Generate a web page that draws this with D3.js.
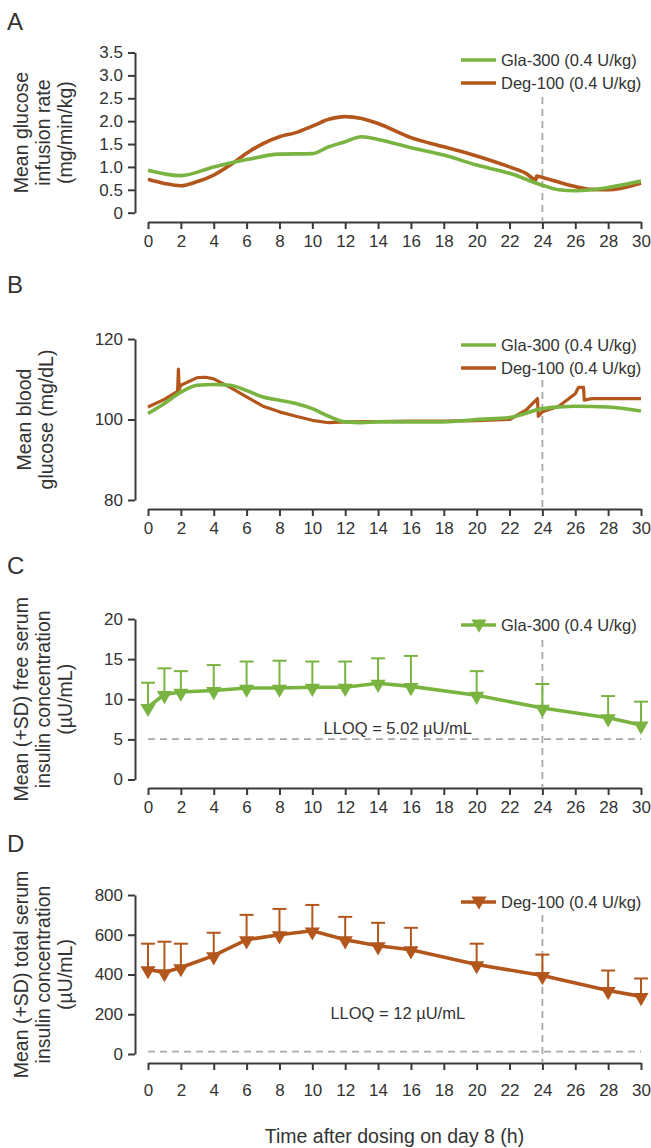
<!DOCTYPE html>
<html>
<head>
<meta charset="utf-8">
<script src="https://cdn.jsdelivr.net/npm/d3@7"></script>
<style>
body { margin: 0; background: #fff; }
</style>
</head>
<body>
<svg id="chart" width="651" height="1148"></svg>
<script>
// ---- data ----
var xTicks = [0, 2, 4, 6, 8, 10, 12, 14, 16, 18, 20, 22, 24, 26, 28, 30];

// A: glucose infusion rate (mg/min/kg)
var girGlaTime = [0, 2, 4, 6, 8, 10, 11, 12, 13, 14, 16, 18, 20, 22, 24, 25, 26, 27, 28, 30];
var girGlaVal  = [0.93, 0.81, 1.0, 1.16, 1.28, 1.29, 1.44, 1.55, 1.66, 1.6, 1.42, 1.26, 1.04, 0.86, 0.6, 0.5, 0.48, 0.5, 0.55, 0.69];
var girDegTime = [0, 1, 2, 3, 4, 5, 6, 7, 8, 9, 10, 11, 12, 13, 14, 16, 18, 20, 22, 23, 23.6, 23.65, 24, 26, 27, 28, 30];
var girDegVal  = [0.73, 0.64, 0.59, 0.68, 0.82, 1.04, 1.3, 1.51, 1.66, 1.75, 1.89, 2.04, 2.1, 2.06, 1.95, 1.64, 1.44, 1.24, 1.0, 0.86, 0.72, 0.8, 0.77, 0.57, 0.51, 0.5, 0.65];
var girTicks = [0, 0.5, 1.0, 1.5, 2.0, 2.5, 3.0, 3.5];

// B: blood glucose (mg/dL)
var bgGlaTime = [0, 1, 2, 3, 4, 5, 6, 7, 8, 9, 10, 11, 12, 13, 14, 16, 18, 20, 22, 24, 25, 26, 28, 30];
var bgGlaVal  = [101.5, 104, 106.8, 108.5, 108.7, 108.5, 107.2, 105.6, 104.8, 104, 102.7, 100.8, 99.4, 99.2, 99.4, 99.4, 99.4, 100, 100.5, 102.7, 103.1, 103.3, 103.1, 102.1];
var bgDegTime = [0, 1, 1.8, 1.85, 1.9, 2, 3, 3.5, 4, 5, 6, 7, 8, 9, 10, 11, 12, 14, 16, 18, 20, 22, 23, 23.7, 23.75, 24, 25, 26, 26.2, 26.5, 26.55, 27, 30];
var bgDegVal  = [103.1, 105, 107, 112.5, 107.5, 108.5, 110.4, 110.5, 110.1, 108, 105.6, 103.3, 101.9, 100.8, 99.8, 99.2, 99.4, 99.5, 99.6, 99.6, 99.7, 100, 102.3, 105.2, 100.8, 101.9, 103.3, 106.4, 108, 108, 104.8, 105.2, 105.2];
var bgTicks = [80, 100, 120];

// C: free serum insulin, Gla-300 (µU/mL)
var freeTime = [0, 1, 2, 4, 6, 8, 10, 12, 14, 16, 20, 24, 28, 30];
var freeMean = [9.0, 10.6, 10.9, 11.1, 11.4, 11.4, 11.5, 11.5, 12.0, 11.6, 10.5, 8.9, 7.7, 6.8];
var freeUpper = [12.06, 13.85, 13.5, 14.26, 14.7, 14.8, 14.7, 14.7, 15.1, 15.4, 13.5, 11.9, 10.4, 9.7];
var freeTicks = [0, 5, 10, 15, 20];
var freeLloq = 5.02;

// D: total serum insulin, Deg-100 (µU/mL)
var totalTime = [0, 1, 2, 4, 6, 8, 10, 12, 14, 16, 20, 24, 28, 30];
var totalMean = [425, 410, 435, 495, 575, 600, 620, 575, 545, 525, 450, 395, 320, 290];
var totalUpper = [555, 565, 555, 610, 700, 730, 750, 690, 660, 635, 555, 500, 420, 380];
var totalTicks = [0, 200, 400, 600, 800];
var totalLloq = 12;

var glaColor = "#79b441";
var degColor = "#b2561c";
var axisColor = "#3a3a3a";
var textColor = "#333";
var dashColor = "#a8a8a8";
var font = "'Liberation Sans', Arial, sans-serif";
var tickFont = 17;
var titleFont = 19.5;

var svg = d3.select("#chart")
    .style("font-family", font);

var x = d3.scaleLinear().domain([0, 30]).range([148, 641]);

function pairs(ts, vs){
    return ts.map(function(t, i){ return [t, vs[i]]; });
}

// 1パネル分の枠（軸・タイトル・縦点線）
function drawFrame(p){
    var g = svg.append("g");
    // panel letter
    g.append("text")
        .attr("x", 7).attr("y", p.letterY)
        .attr("font-size", 24).attr("fill", textColor)
        .text(p.letter);
    // y axis
    var ya = g.append("g")
        .attr("transform", "translate(135,0)")
        .call(d3.axisLeft(p.y).tickValues(p.yTicks).tickSize(7).tickSizeOuter(0).tickPadding(5)
            .tickFormat(p.yFormat));
    // x axis
    var xa = g.append("g")
        .attr("transform", "translate(0," + p.xAxisY + ")")
        .call(d3.axisBottom(x).tickValues(xTicks).tickSize(7).tickSizeOuter(0).tickPadding(p.xPad));
    [ya, xa].forEach(function(a){
        a.attr("font-family", font).attr("font-size", tickFont);
        a.select(".domain").attr("stroke", axisColor).attr("stroke-width", 2);
        a.selectAll(".tick line").attr("stroke", axisColor).attr("stroke-width", 2);
        a.selectAll(".tick text").attr("fill", textColor);
    });
    // y title
    var cy = (p.y.range()[0] + p.y.range()[1]) / 2;
    var t = g.append("text")
        .attr("transform", "translate(0," + cy + ") rotate(-90)")
        .attr("text-anchor", "middle")
        .attr("font-size", titleFont).attr("fill", textColor);
    p.title.forEach(function(line, i){
        t.append("tspan")
            .attr("x", 0)
            .attr("y", p.titleX[i])
            .text(line);
    });
    // 24h dashed line
    g.append("line")
        .attr("x1", x(24)).attr("x2", x(24))
        .attr("y1", p.dashTop).attr("y2", p.xAxisY)
        .attr("stroke", dashColor).attr("stroke-width", 1.8)
        .attr("stroke-dasharray", "7,5");
    return g;
}

function legendLine(g, y, color, label, marker){
    g.append("line")
        .attr("x1", 461).attr("x2", 496).attr("y1", y).attr("y2", y)
        .attr("stroke", color).attr("stroke-width", 3.5);
    if(marker){
        g.append("path")
            .attr("d", d3.symbol(d3.symbolTriangle, 100)())
            .attr("transform", "translate(479," + (y - 1) + ") rotate(180)")
            .attr("fill", color);
    }
    g.append("text")
        .attr("x", 501).attr("y", y + 6)
        .attr("font-size", 16.5).attr("fill", textColor)
        .text(label);
}

function fmt1(d){ return d === 0 ? "0" : d3.format(".1f")(d); }

// ---- A ----
var yA = d3.scaleLinear().domain([0, 3.5]).range([212.7, 52.5]);
var gA = drawFrame({letter: "A", letterY: 30, y: yA, yTicks: girTicks, yFormat: fmt1,
    xAxisY: 222, xPad: 6, dashTop: 97,
    title: ["Mean glucose", "infusion rate", "(mg/min/kg)"], titleX: [28, 50, 72]});
var lineA = d3.line().x(function(d){ return x(d[0]); }).y(function(d){ return yA(d[1]); })
    .curve(d3.curveMonotoneX);
gA.append("path").datum(pairs(girDegTime, girDegVal)).attr("d", lineA)
    .attr("fill", "none").attr("stroke", degColor).attr("stroke-width", 3.6);
gA.append("path").datum(pairs(girGlaTime, girGlaVal)).attr("d", lineA)
    .attr("fill", "none").attr("stroke", glaColor).attr("stroke-width", 3.6);
legendLine(gA, 60, glaColor, "Gla-300 (0.4 U/kg)", false);
legendLine(gA, 83, degColor, "Deg-100 (0.4 U/kg)", false);

// ---- B ----
var yB = d3.scaleLinear().domain([80, 120]).range([500, 339]);
var gB = drawFrame({letter: "B", letterY: 293, y: yB, yTicks: bgTicks, yFormat: d3.format("d"),
    xAxisY: 509, xPad: 6, dashTop: 380,
    title: ["Mean blood", "glucose (mg/dL)"], titleX: [31, 53]});
var lineB = d3.line().x(function(d){ return x(d[0]); }).y(function(d){ return yB(d[1]); });
gB.append("path").datum(pairs(bgDegTime, bgDegVal)).attr("d", lineB.curve(d3.curveLinear))
    .attr("fill", "none").attr("stroke", degColor).attr("stroke-width", 3.2)
    .attr("stroke-linejoin", "round");
gB.append("path").datum(pairs(bgGlaTime, bgGlaVal)).attr("d", lineB.curve(d3.curveMonotoneX))
    .attr("fill", "none").attr("stroke", glaColor).attr("stroke-width", 3.6);
legendLine(gB, 345, glaColor, "Gla-300 (0.4 U/kg)", false);
legendLine(gB, 368, degColor, "Deg-100 (0.4 U/kg)", false);

// ---- C, D (mean + SD) ----
function drawPK(g, y, ts, means, uppers, color, lloq, lloqLabel, labelY){
    // LLOQ
    g.append("line")
        .attr("x1", x(0)).attr("x2", x(30)).attr("y1", y(lloq)).attr("y2", y(lloq))
        .attr("stroke", dashColor).attr("stroke-width", 1.8).attr("stroke-dasharray", "7,5");
    g.append("text")
        .attr("x", x(15.2)).attr("y", labelY)
        .attr("text-anchor", "middle").attr("font-size", 16.5).attr("fill", textColor)
        .text(lloqLabel);
    // error bars
    var eb = g.append("g").attr("stroke", color).attr("stroke-width", 2);
    ts.forEach(function(t, i){
        eb.append("line").attr("x1", x(t)).attr("x2", x(t))
            .attr("y1", y(means[i])).attr("y2", y(uppers[i]));
        eb.append("line").attr("x1", x(t) - 7).attr("x2", x(t) + 7)
            .attr("y1", y(uppers[i])).attr("y2", y(uppers[i]));
    });
    var line = d3.line().x(function(d){ return x(d[0]); }).y(function(d){ return y(d[1]); });
    g.append("path").datum(pairs(ts, means)).attr("d", line)
        .attr("fill", "none").attr("stroke", color).attr("stroke-width", 3.6);
    g.selectAll(null).data(pairs(ts, means)).enter().append("path")
        .attr("d", d3.symbol(d3.symbolTriangle, 100)())
        .attr("transform", function(d){ return "translate(" + x(d[0]) + "," + (y(d[1]) + 1) + ") rotate(180)"; })
        .attr("fill", color);
}

var yC = d3.scaleLinear().domain([0, 20]).range([779.5, 619]);
var gC = drawFrame({letter: "C", letterY: 574, y: yC, yTicks: freeTicks, yFormat: d3.format("d"),
    xAxisY: 788, xPad: 6, dashTop: 640,
    title: ["Mean (+SD) free serum", "insulin concentration", "(µU/mL)"], titleX: [28, 50, 72]});
drawPK(gC, yC, freeTime, freeMean, freeUpper, glaColor, freeLloq, "LLOQ = 5.02 µU/mL", 734);
legendLine(gC, 625, glaColor, "Gla-300 (0.4 U/kg)", true);

var yD = d3.scaleLinear().domain([0, 800]).range([1054, 895]);
var gD = drawFrame({letter: "D", letterY: 852, y: yD, yTicks: totalTicks, yFormat: d3.format("d"),
    xAxisY: 1063, xPad: 14, dashTop: 915,
    title: ["Mean (+SD)  total serum", "insulin concentration", "(µU/mL)"], titleX: [28, 50, 72]});
drawPK(gD, yD, totalTime, totalMean, totalUpper, degColor, totalLloq, "LLOQ = 12 µU/mL", 1019);
legendLine(gD, 902, degColor, "Deg-100 (0.4 U/kg)", true);

// x title
svg.append("text")
    .attr("x", x(15)).attr("y", 1143)
    .attr("text-anchor", "middle").attr("font-size", titleFont).attr("fill", textColor)
    .text("Time after dosing on day 8 (h)");
</script>
</body>
</html>
